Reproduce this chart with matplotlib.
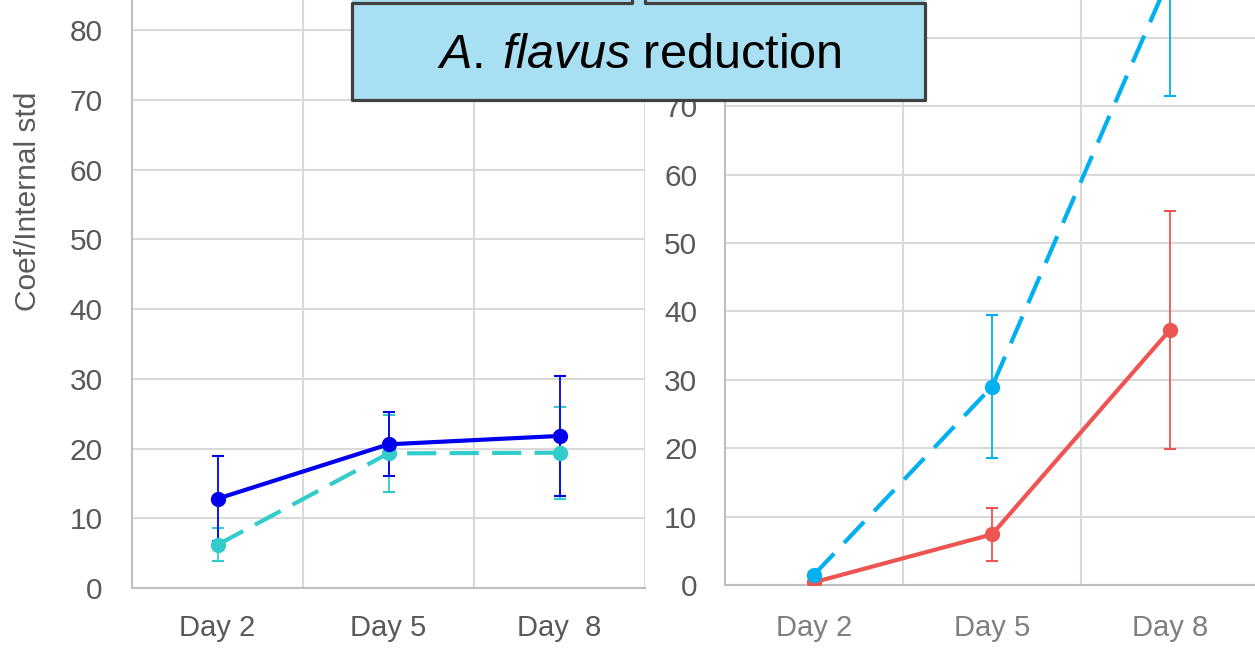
import matplotlib
matplotlib.use('Agg')
import matplotlib.pyplot as plt
from matplotlib.lines import Line2D
from matplotlib.patches import Rectangle

plt.rcParams['font.family'] = ['Liberation Sans', 'DejaVu Sans']
plt.rcParams['mathtext.fontset'] = 'custom'
plt.rcParams['mathtext.rm'] = 'Liberation Sans'
plt.rcParams['mathtext.it'] = 'Liberation Sans:italic'

# data
days_left = ['Day 2', 'Day 5', 'Day  8']
days_right = ['Day 2', 'Day 5', 'Day 8']

left_solid = [12.8, 20.6, 21.8]
left_solid_err = [6.1, 4.6, 8.6]
left_dash = [6.2, 19.3, 19.4]
left_dash_err = [2.4, 5.5, 6.6]

right_solid = [0.4, 7.4, 37.3]
right_solid_err = [0.2, 3.9, 17.4]
right_dash = [1.5, 29.0, 89.0]
right_dash_err = [0.2, 10.5, 17.5]

W, H = 1255, 649
fig = plt.figure(figsize=(W / 100, H / 100), dpi=100)


def px_axes(x0, x1, y_bottom, y_top):
    # axes box given in pixel coords of the picture (y from top)
    return fig.add_axes([x0 / W, (H - y_bottom) / H, (x1 - x0) / W, (y_bottom - y_top) / H])


def style(ax, labels, ymax, lab_color, xpad, ypad):
    ax.set_xlim(-0.5, 2.5)
    ax.set_ylim(0, ymax)
    ax.set_xticks(range(3))
    ax.set_xticklabels(labels)
    ax.set_xticks([0.5, 1.5, 2.5], minor=True)
    ax.set_yticks(range(0, 90, 10))
    ax.grid(axis='y', which='major', color='#D9D9D9', lw=1.5)
    ax.grid(axis='x', which='minor', color='#D9D9D9', lw=1.5)
    ax.set_axisbelow(True)
    for s in ['top', 'right']:
        ax.spines[s].set_visible(False)
    for s in ['left', 'bottom']:
        ax.spines[s].set_color('#BFBFBF')
        ax.spines[s].set_linewidth(1.5)
    ax.tick_params(axis='both', which='both', length=0)
    ax.tick_params(axis='x', labelsize=21, labelcolor=lab_color, pad=xpad)
    ax.tick_params(axis='y', labelsize=21.5, labelcolor='#595959', pad=ypad)


def series(ax, y, err, color, ls):
    ax.errorbar(range(3), y, yerr=err, color=color, lw=1.3, capsize=4, capthick=1.5,
                fmt='none', zorder=3)
    ax.plot(range(3), y, color=color, lw=3, ls=ls, marker='o', ms=10, zorder=4)


# left panel
ax1 = px_axes(132, 645, 588, 0)
style(ax1, days_left, 588 / 6.975, '#595959', 19, 21)
series(ax1, left_dash, left_dash_err, '#33CCCC', (0, (7, 3.2)))
series(ax1, left_solid, left_solid_err, '#0000EE', '-')
ax1.set_ylabel('Coef/Internal std', fontsize=21.5, color='#595959')
ax1.yaxis.set_label_coords((42 - 132) / 513, (588 - 201) / 588)

# right panel
ax2 = px_axes(725, 1259, 585, 0)
style(ax2, days_right, 585 / 6.84, '#7F7F7F', 21, 20)
series(ax2, right_solid, right_solid_err, '#EE5552', '-')
series(ax2, right_dash, right_dash_err, '#00B0F0', (0, (7, 3.5)))


# title box
def fx(x):
    return x / W


def fy(y):
    return (H - y) / H


fig.patches.append(Rectangle((fx(352), fy(100)), fx(925) - fx(352), fy(0) - fy(100),
                             transform=fig.transFigure, facecolor='#A9DFF2',
                             edgecolor='none', zorder=10))
xs = [632, 632, 352, 352, 925, 925, 645, 645]
ys = [0, 3, 3, 100, 100, 3, 3, 0]
fig.lines.append(Line2D([fx(v) for v in xs], [fy(v) for v in ys], transform=fig.transFigure,
                        color='#404040', lw=2.3, zorder=11))
fig.text(fx(639), fy(56), r'$A.\:flavus$ reduction', fontsize=35, color='black',
         ha='center', va='center', zorder=12)

fig.savefig('out.png', dpi=100)
